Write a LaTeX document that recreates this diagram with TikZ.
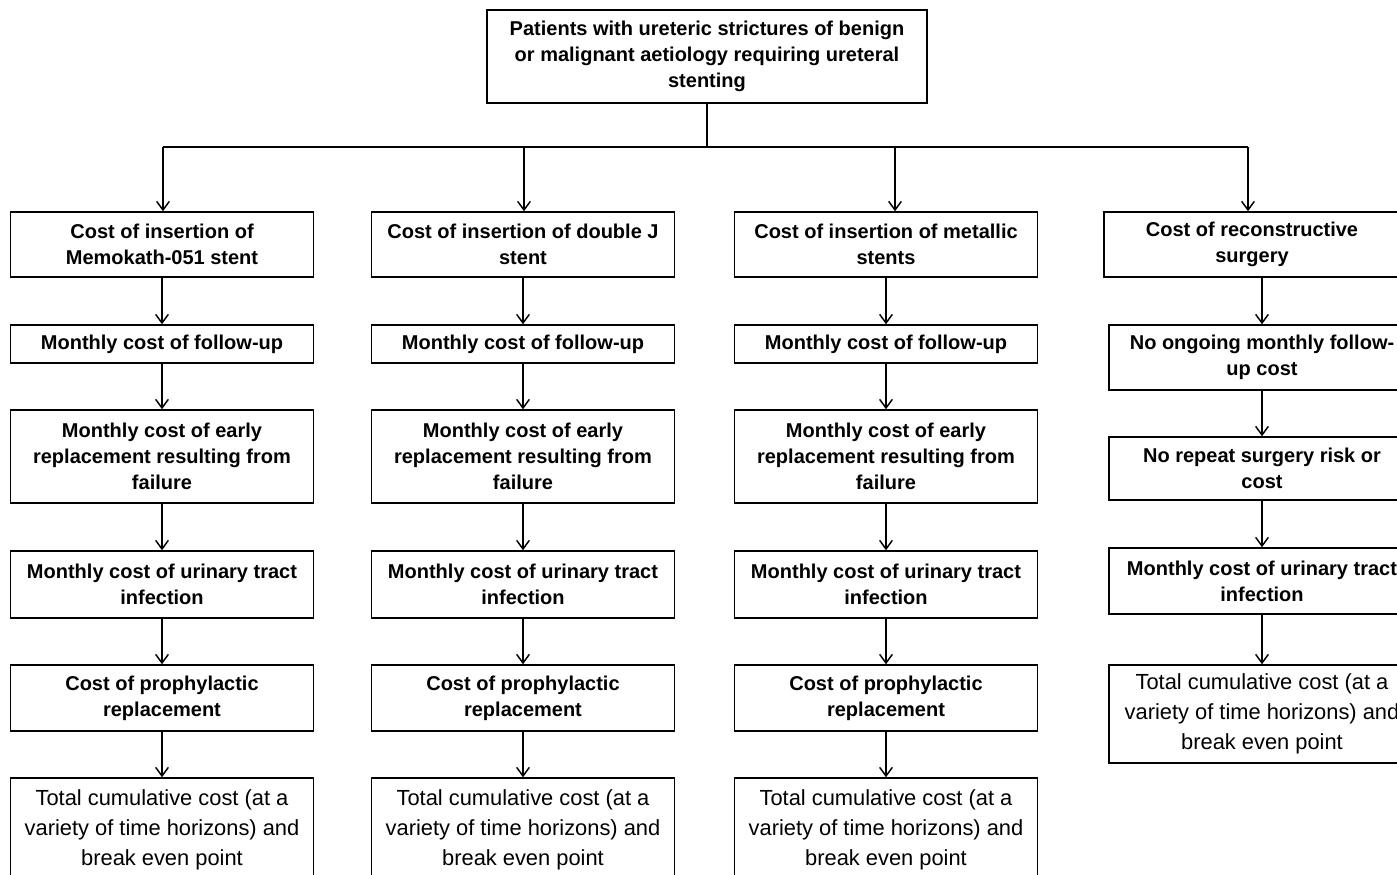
\documentclass[tikz,border=0pt]{standalone}
\usepackage{fontspec}
\setmainfont{Liberation Sans}
\usetikzlibrary{arrows.meta}

\tikzset{
  box/.style={draw, line width=1.1pt, align=center, inner sep=0pt,
    font=\bfseries\fontsize{15}{19.5}\selectfont},
  totalbox/.style={box, font=\fontsize{16.4}{22.5}\selectfont},
  arr/.style={line width=1.1pt, -{Straight Barb[length=6.5pt,width=9.5pt]}}
}

\begin{document}
\begin{tikzpicture}[x=0.75pt,y=-0.75pt]
    \useasboundingbox (0,0) rectangle (1397,875);

    \node[box, minimum width=330pt, minimum height=69.75pt] (top) at (707,56.5)
        {Patients with ureteric strictures of benign\\or malignant aetiology requiring ureteral\\stenting};

    % the three stent columns
    \foreach \col/\cx/\first in {1/162/{Cost of insertion of\\Memokath-051 stent},
                                2/523/{Cost of insertion of double J\\stent},
                                3/886/{Cost of insertion of metallic\\stents}} {
        \node[box, minimum width=227.25pt, minimum height=48.75pt] (c\col a) at (\cx,244.5) {\first};
        \node[box, minimum width=227.25pt, minimum height=28.5pt] (c\col b) at (\cx,344) {Monthly cost of follow-up};
        \node[box, minimum width=227.25pt, minimum height=69.75pt] (c\col c) at (\cx,456.5)
            {Monthly cost of early\\replacement resulting from\\failure};
        \node[box, minimum width=227.25pt, minimum height=50.25pt] (c\col d) at (\cx,584.5)
            {Monthly cost of urinary tract\\infection};
        \node[box, minimum width=227.25pt, minimum height=49.5pt] (c\col e) at (\cx,698)
            {Cost of prophylactic\\replacement};
        \node[totalbox, minimum width=227.25pt, minimum height=78pt] (c\col f) at (\cx,830)
            {Total cumulative cost (at a\\variety of time horizons) and\\break even point};
        \draw[arr] (c\col a) -- (c\col b);
        \draw[arr] (c\col b) -- (c\col c);
        \draw[arr] (c\col c) -- (c\col d);
        \draw[arr] (c\col d) -- (c\col e);
        \draw[arr] (c\col e) -- (c\col f);
    }

    % surgery column
    \node[box, minimum width=222pt, minimum height=48.75pt] (c4a) at (1252,244.5)
        {Cost of reconstructive\\surgery};
    \node[box, minimum width=229.5pt, minimum height=48.75pt] (c4b) at (1262,357.5)
        {No ongoing monthly follow-\\up cost};
    \node[box, minimum width=229.5pt, minimum height=47.25pt] (c4c) at (1262,468.5)
        {No repeat surgery risk or\\cost};
    \node[box, minimum width=229.5pt, minimum height=49.5pt] (c4d) at (1262,581)
        {Monthly cost of urinary tract\\infection};
    \node[totalbox, minimum width=229.5pt, minimum height=73.5pt] (c4e) at (1262,714)
        {Total cumulative cost (at a\\variety of time horizons) and\\break even point};
    \draw[arr] (c4b.north |- c4a.south) -- (c4b);
    \draw[arr] (c4b) -- (c4c);
    \draw[arr] (c4c) -- (c4d);
    \draw[arr] (c4d) -- (c4e);

    % branching
    \coordinate (d1) at (163,147);
    \coordinate (d2) at (524,147);
    \coordinate (d3) at (895,147);
    \coordinate (d4) at (1248,147);
    \draw[line width=1.1pt] (top) -- (top |- d1);
    \draw[line width=1.1pt] (d1) -- (d4);
    \foreach \i in {1,...,4} { \draw[arr] (d\i) -- (d\i |- c\i a.north); }
\end{tikzpicture}
\end{document}
